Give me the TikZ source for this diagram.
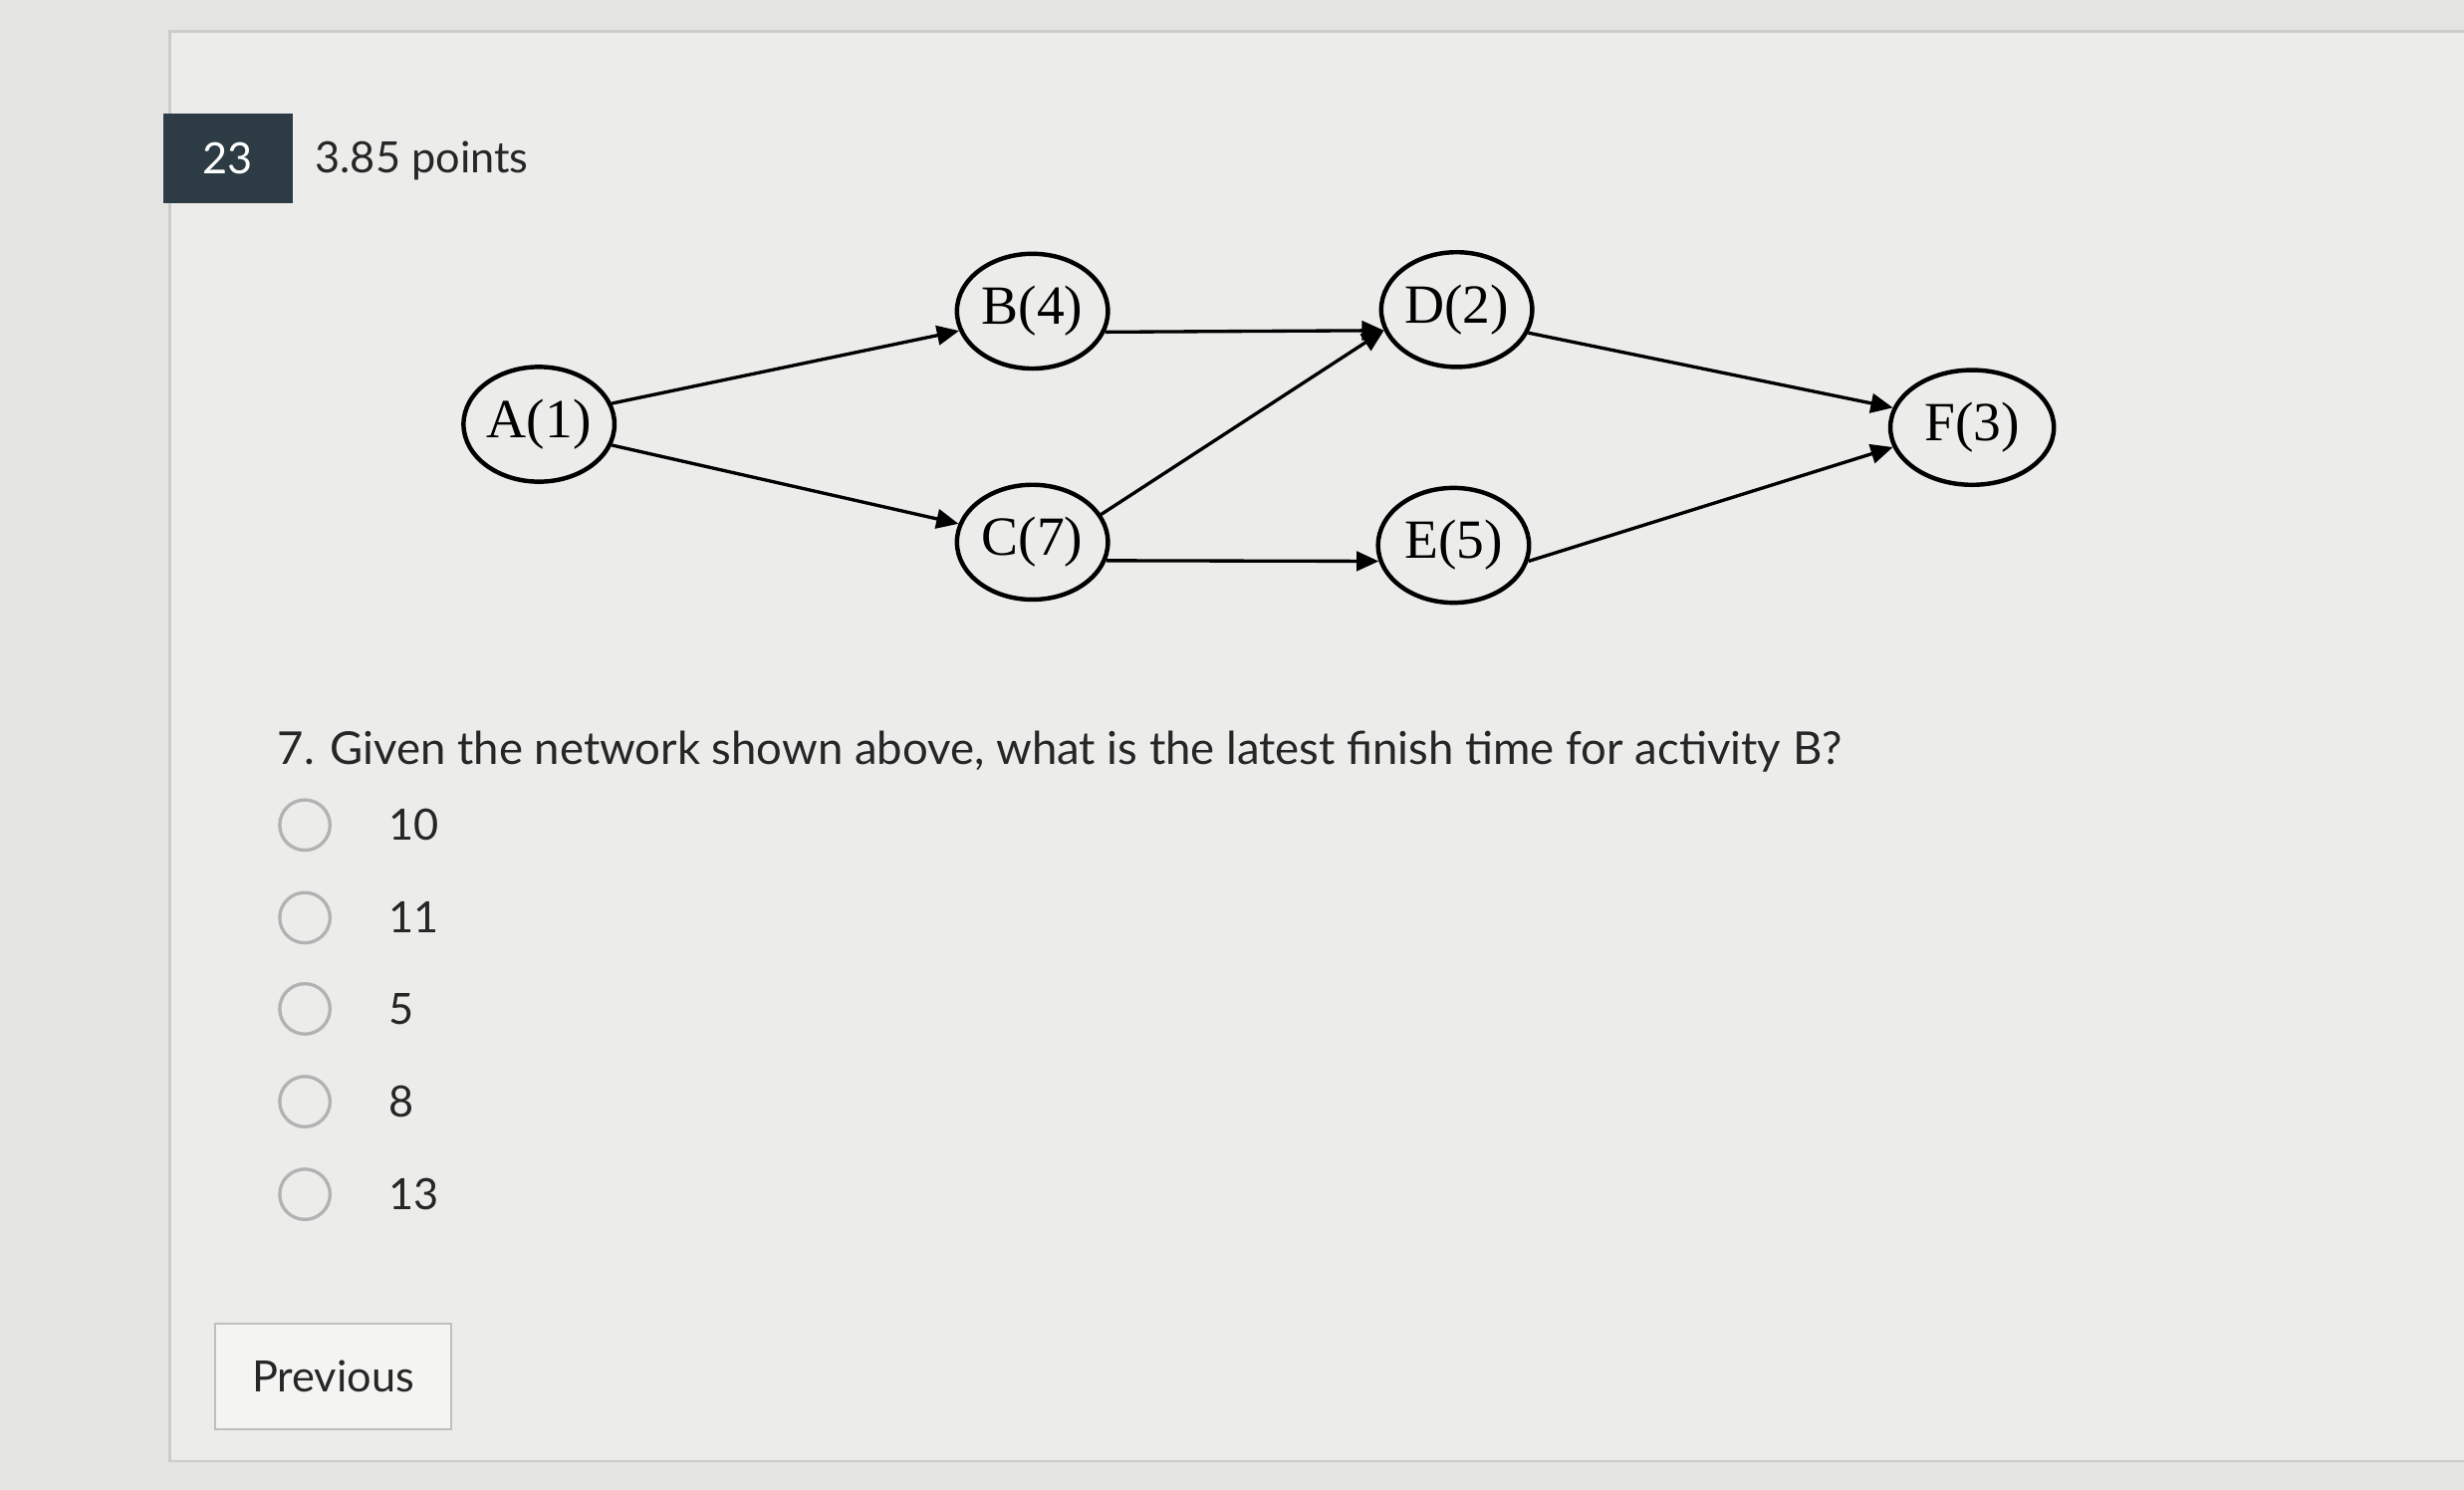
\documentclass[tikz,border=0pt]{standalone}
\usepackage{fontspec}
\setmainfont{Lato}
\newfontfamily\serifnode{Liberation Serif}
\usetikzlibrary{shapes.geometric,arrows.meta}
\definecolor{bg}{HTML}{E4E4E2}
\definecolor{panel}{HTML}{ECECEA}
\definecolor{badge}{HTML}{2D3B45}
\tikzset{
  act/.style={ellipse,draw,line width=0.8pt,minimum width=0.96cm,minimum height=0.73cm,inner sep=0pt,font=\serifnode\fontsize{10}{12}\selectfont},
  arr/.style={-{Triangle[length=4pt,width=3.5pt]},line width=0.6pt},
  radio/.style={circle,draw=gray!60,line width=0.6pt,minimum size=0.32cm,inner sep=0pt},
  ui/.style={font=\fontsize{7.8}{9}\selectfont,text=black!85},
}
\begin{document}
\begin{tikzpicture}[x=0.01cm,y=-0.01cm]
\fill[bg] (0,0) rectangle (1568,948);
\useasboundingbox (0,0) rectangle (1568,948);
\fill[panel,draw=gray!40] (108,20) rectangle (1580,930);
\node[fill=badge,minimum width=0.82cm,minimum height=0.57cm,inner sep=0pt,ui,text=white] (badge) at (145,101) {23};
\node[ui,anchor=west,inner sep=0pt] (pts) at (200,102) {3.85 points};
\node[act] (A) at (343,270) {A(1)};
\node[act] (B) at (657,198) {B(4)};
\node[act] (C) at (657,345) {C(7)};
\node[act] (D) at (927,197) {D(2)};
\node[act] (E) at (925,347) {E(5)};
\node[act,minimum width=1.04cm] (F) at (1255,272) {F(3)};
\draw[arr] (A.16) -- (B.195);
\draw[arr] (A.-16) -- (C.166);
\draw[arr] (B.-16) -- (D.196);
\draw[arr] (C.22) -- (D.196);
\draw[arr] (C.-14) -- (E.192);
\draw[arr] (D.-18) -- (F.166);
\draw[arr] (E.-12) -- (F.194);
\node[ui,anchor=west,inner sep=0pt,font=\fontsize{8.2}{10}\selectfont] (q) at (176,478) {7. Given the network shown above, what is the latest finish time for activity B?};
\foreach \y/\t/\n in {525/10/a,584/11/b,642/5/c,701/8/d,760/13/e}{
  \node[radio] (r\n) at (194,\y) {};
  \node[ui,anchor=west,inner sep=0pt] (l\n) at (247,\y) {\t};
}
\node[draw=gray!50,fill=panel!60!white,minimum width=1.5cm,minimum height=0.67cm,ui] (prev) at (212,876) {Previous};
\end{tikzpicture}
\end{document}
